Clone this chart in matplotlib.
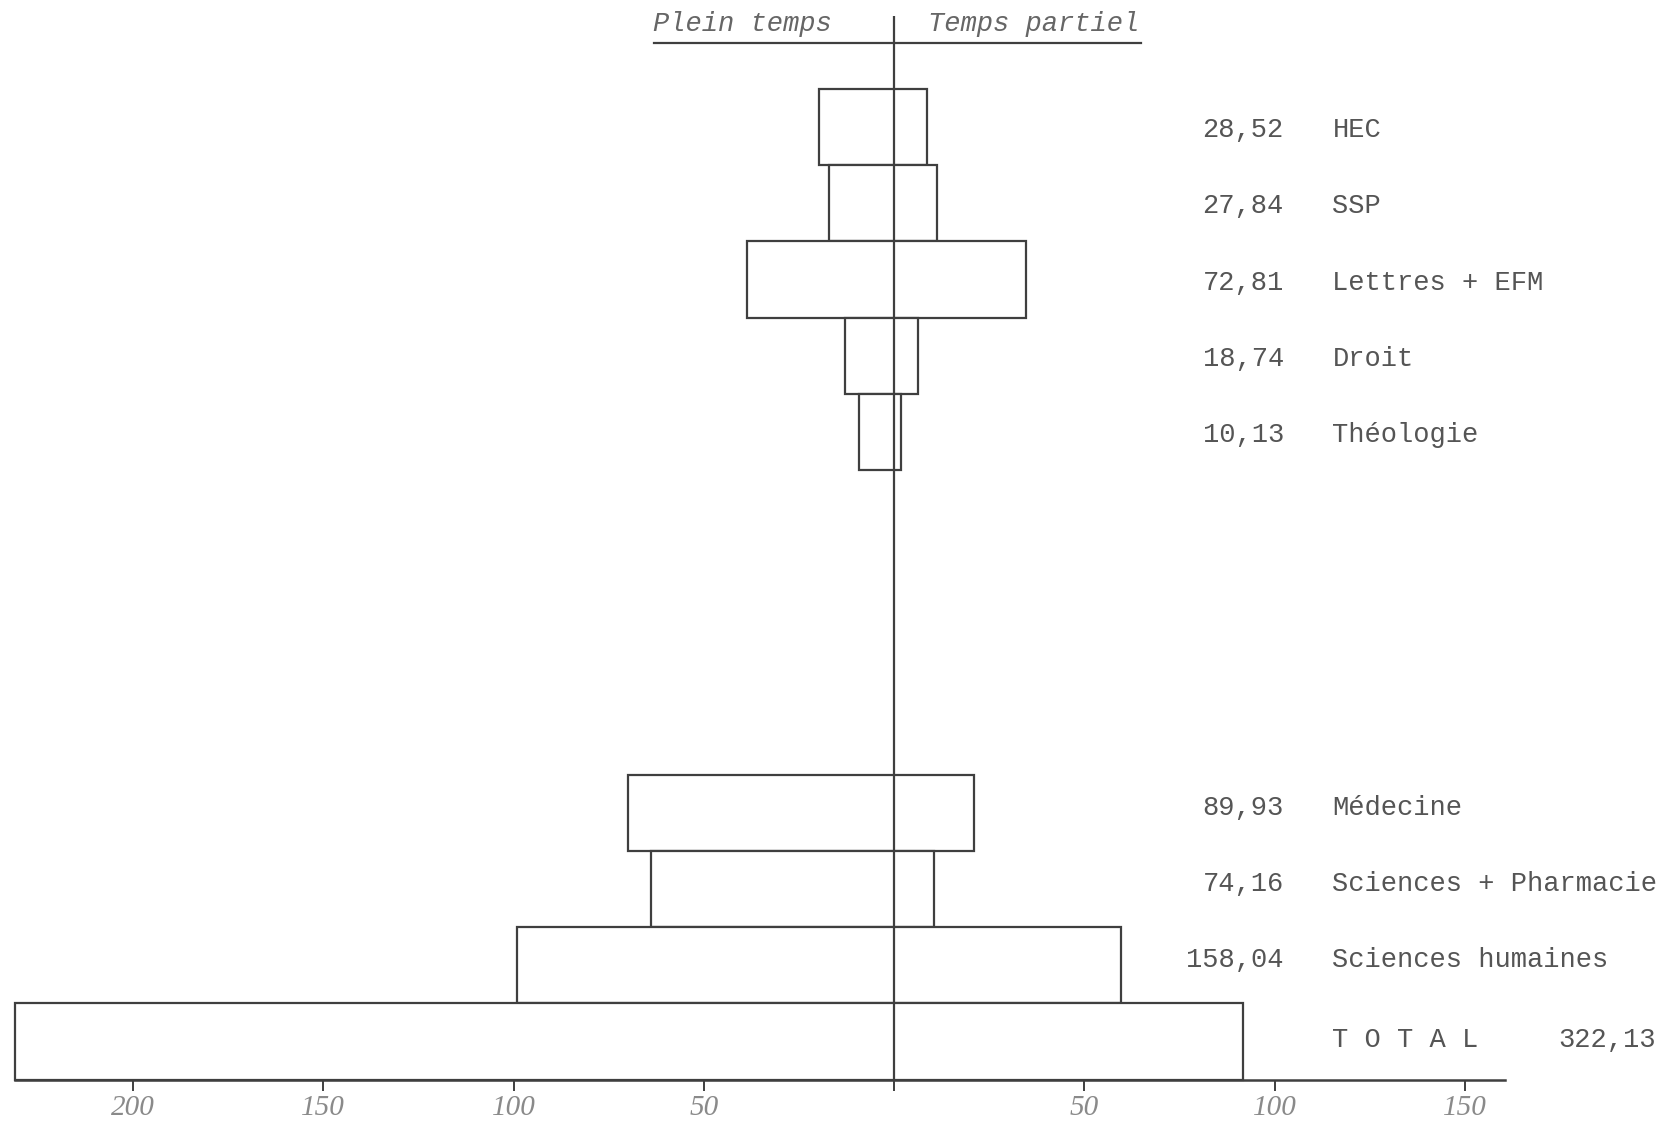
import matplotlib
matplotlib.use("Agg")
import matplotlib.pyplot as plt

# ---- data ----
categories = ["HEC", "SSP", "Lettres + EFM", "Droit", "Théologie",
              "Médecine", "Sciences + Pharmacie", "Sciences humaines", "TOTAL"]
plein_temps = [19.7, 17.2, 38.7, 13.0, 9.1, 69.8, 63.8, 99.0, 231.1]
temps_partiel = [8.6, 11.3, 34.6, 6.3, 1.8, 21.0, 10.4, 59.5, 91.8]
totaux = [28.52, 27.84, 72.81, 18.74, 10.13, 89.93, 74.16, 158.04, 322.13]
row_slots = [0, 1, 2, 3, 4, 9, 10, 11, 12]
tick_values = [-200, -150, -100, -50, 0, 50, 100, 150]
tick_labels = ["200", "150", "100", "50", "", "50", "100", "150"]
title_left = "Plein temps"
title_right = "Temps partiel"

LINE = "#3f3f3f"
TEXT = "#555555"
MONO = ["Liberation Mono", "DejaVu Sans Mono"]

fig = plt.figure(figsize=(16.62, 11.26), dpi=100)
ax = fig.add_axes([0, 0, 1, 1])
fig.patch.set_facecolor("white")
ax.set_facecolor("white")

# bars: full time to the left, part time to the right
for y, ft, pt in zip(row_slots, plein_temps, temps_partiel):
    ax.barh(y, ft + pt, left=-ft, height=1.0, facecolor="white",
            edgecolor=LINE, linewidth=1.6, zorder=2)

ax.set_xlim(-234.96, 201.8)
ax.set_ylim(13.11, -1.669)

# centre line
ax.plot([0, 0], [-1.46, 12.5], color=LINE, lw=1.6, zorder=3,
        solid_capstyle="butt")

# headings with underline
ax.plot([-63.1, 65.0], [-1.10, -1.10], color=LINE, lw=1.6, zorder=3)
ax.text(-40, -1.36, title_left, ha="center", va="center", fontsize=19.5,
        family=MONO, style="italic", color="#666666")
ax.text(36.6, -1.36, title_right, ha="center", va="center", fontsize=19.5,
        family=MONO, style="italic", color="#666666")

# right-hand labels
for y, name, tot in zip(row_slots, categories, totaux):
    s = f"{tot:.2f}".replace(".", ",")
    if name == "TOTAL":
        ax.text(115.2, y - 0.02, "T O T A L", ha="left", va="center",
                fontsize=19.5, family=MONO, color=TEXT)
        ax.text(200.1, y - 0.02, s, ha="right", va="center",
                fontsize=19.5, family=MONO, color=TEXT)
    else:
        ty = y + 0.04 if y < 5 else y - 0.07
        ax.text(102.4, ty, s, ha="right", va="center",
                fontsize=19.5, family=MONO, color=TEXT)
        ax.text(115.2, ty, name, ha="left", va="center",
                fontsize=19.5, family=MONO, color=TEXT)

# x axis at the bottom of the TOTAL bar
for side in ["left", "right", "top"]:
    ax.spines[side].set_visible(False)
ax.spines["bottom"].set_position(("data", 12.5))
ax.spines["bottom"].set_bounds(-231.1, 160.6)
ax.spines["bottom"].set_color(LINE)
ax.spines["bottom"].set_linewidth(1.8)
ax.set_xticks(tick_values)
ax.set_xticklabels(tick_labels, fontsize=21, family=["Liberation Serif"],
                   style="italic", color="#8a8a8a")
ax.tick_params(axis="x", direction="out", length=8, width=1.4,
               color=LINE, pad=3)
ax.set_yticks([])

fig.savefig("out.png", dpi=100, facecolor="white")
